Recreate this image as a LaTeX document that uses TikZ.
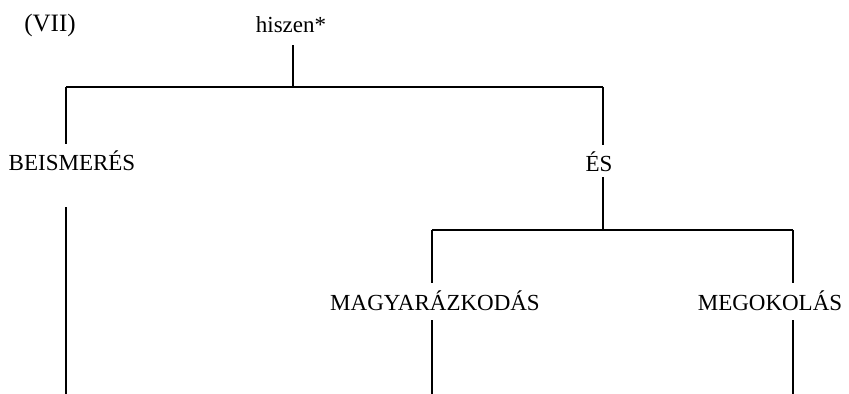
\documentclass[tikz,border=0pt]{standalone}
\usepackage{fontspec}
\setmainfont{Liberation Serif}

\begin{document}
\begin{tikzpicture}[x=0.5pt,y=-0.5pt,
    lbl/.style={font=\fontsize{11.5}{13}\selectfont, inner sep=0pt},
    tree/.style={line width=1.4pt}]
            \useasboundingbox (0,0) rectangle (849,394);
            % labels
            \node[lbl,font=\fontsize{12.5}{14}\selectfont] (vii) at (50,25) {(VII)};
            \node[lbl] (hiszen) at (291,25) {hiszen*};
            \node[lbl] (beis) at (72,161) {BEISMERÉS};
            \node[lbl] (es) at (599,162) {ÉS};
            \node[lbl] (magy) at (435,301) {MAGYARÁZKODÁS};
            \node[lbl] (megok) at (770,301) {MEGOKOLÁS};
            % branch points
            \coordinate (top) at (293,87);
            \coordinate (topL) at (66,87);
            \coordinate (topR) at (603,87);
            \coordinate (mid) at (603,230);
            \coordinate (midL) at (432,230);
            \coordinate (midR) at (793,230);
            \coordinate (endB) at (66,394);
            \coordinate (endM) at (432,394);
            \coordinate (endG) at (793,394);
            % upper level
            \draw[tree,shorten <=6pt] (top |- hiszen.south) -- (top);
            \draw[tree] (topL) -- (topR);
            \draw[tree,shorten >=3.5pt] (topL) -- (topL |- beis.north);
            \draw[tree,shorten <=18pt] (topL |- beis.south) -- (endB);
            \draw[tree,shorten >=3.5pt] (topR) -- (topR |- es.north);
            \draw[tree,shorten <=2.5pt] (topR |- es.south) -- (mid);
            % lower level
            \draw[tree] (midL) -- (midR);
            \draw[tree,shorten >=4pt] (midL) -- (midL |- magy.north);
            \draw[tree,shorten <=4.5pt] (midL |- magy.south) -- (endM);
            \draw[tree,shorten >=4pt] (midR) -- (midR |- megok.north);
            \draw[tree,shorten <=4.5pt] (midR |- megok.south) -- (endG);
\end{tikzpicture}
\end{document}
